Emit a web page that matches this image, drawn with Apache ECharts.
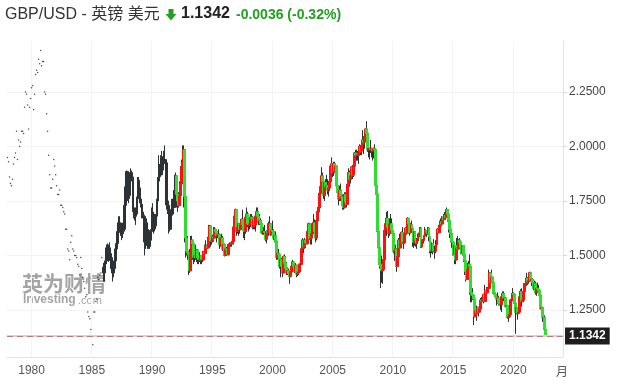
<!DOCTYPE html>
<html>
<head>
<meta charset="utf-8">
<script src="https://cdn.jsdelivr.net/npm/echarts@6/dist/echarts.min.js"></script>
<style>html,body{margin:0;padding:0;background:#fff}#c{width:620px;height:391px}</style>
</head>
<body>
<div id="c"></div>
<script>
// ---------------- DATA ----------------
const firstMonth = [1978, 1];
const lastAxisMonth = [2024, 2];
const yearTicks = [1980, 1985, 1990, 1995, 2000, 2005, 2010, 2015, 2020];
const priceTicks = [1.25, 1.5, 1.75, 2.0, 2.25];
const lastPrice = 1.1342;
const change = '-0.0036';
const changePct = '(-0.32%)';

// monthly closes shown as single dots, 1978-01 .. 1985-12
const dotCloses = [
  1.950,1.930,1.860,1.830,1.820,1.850,1.920,1.950,1.970,2.070,1.940,2.030,
  2.000,2.020,2.070,2.070,2.060,2.180,2.250,2.240,2.190,2.080,2.180,2.220,
  2.270,2.280,2.170,2.240,2.330,2.350,2.340,2.400,2.380,2.440,2.370,2.390,
  2.390,2.250,2.240,2.150,2.070,1.960,1.870,1.810,1.810,1.850,1.940,1.910,
  1.870,1.820,1.780,1.780,1.800,1.730,1.730,1.720,1.700,1.690,1.620,1.620,
  1.530,1.520,1.480,1.560,1.590,1.530,1.520,1.500,1.500,1.490,1.460,1.450,
  1.410,1.490,1.440,1.400,1.380,1.350,1.310,1.320,1.240,1.220,1.210,1.160,
  1.130,1.090,1.240,1.240,1.290,1.300,1.400,1.390,1.410,1.420,1.490,1.445
];

// monthly candles from 1986-01 (open = previous close)
const candleStart = '1986-01';
const colorStart = '1992-01';
const closes = [
  1.420,1.465,1.475,1.535,1.505,1.535,1.490,1.490,1.440,1.420,1.440,1.475,
  1.530,1.555,1.610,1.650,1.640,1.605,1.600,1.640,1.620,1.730,1.815,1.885,
  1.775,1.775,1.870,1.880,1.860,1.710,1.710,1.680,1.690,1.760,1.845,1.810,
  1.750,1.735,1.690,1.685,1.575,1.545,1.650,1.560,1.615,1.580,1.570,1.610,
  1.695,1.690,1.640,1.635,1.680,1.750,1.855,1.900,1.870,1.950,1.940,1.930,
  1.940,1.925,1.750,1.730,1.710,1.620,1.685,1.690,1.750,1.720,1.770,1.865,
  1.780,1.750,1.730,1.775,1.830,1.905,1.925,1.985,1.770,1.580,1.520,1.512,
  1.505,1.430,1.510,1.570,1.555,1.490,1.500,1.490,1.525,1.490,1.480,1.480,
  1.500,1.480,1.480,1.515,1.510,1.545,1.545,1.535,1.580,1.635,1.565,1.565,
  1.585,1.580,1.620,1.610,1.590,1.595,1.595,1.550,1.580,1.580,1.530,1.550,
  1.500,1.530,1.525,1.505,1.550,1.550,1.555,1.555,1.565,1.630,1.680,1.710,
  1.610,1.630,1.645,1.620,1.640,1.665,1.640,1.615,1.610,1.675,1.690,1.645,
  1.640,1.645,1.675,1.670,1.630,1.665,1.640,1.680,1.700,1.680,1.655,1.660,
  1.645,1.605,1.610,1.610,1.605,1.575,1.610,1.605,1.645,1.645,1.595,1.615,
  1.610,1.580,1.590,1.565,1.490,1.510,1.505,1.450,1.480,1.450,1.420,1.495,
  1.465,1.440,1.420,1.430,1.415,1.405,1.425,1.450,1.470,1.450,1.425,1.455,
  1.415,1.420,1.425,1.460,1.460,1.530,1.570,1.540,1.570,1.560,1.555,1.610,
  1.645,1.575,1.580,1.600,1.645,1.650,1.610,1.580,1.660,1.700,1.720,1.785,
  1.815,1.865,1.840,1.775,1.835,1.815,1.820,1.800,1.810,1.840,1.910,1.920,
  1.880,1.920,1.890,1.910,1.820,1.790,1.760,1.800,1.765,1.770,1.730,1.720,
  1.780,1.745,1.735,1.825,1.880,1.850,1.865,1.905,1.870,1.910,1.970,1.960,
  1.960,1.960,1.970,2.000,1.980,2.005,2.030,2.020,2.045,2.080,2.060,1.985,
  1.990,1.990,1.985,1.990,1.980,1.990,1.985,1.820,1.780,1.610,1.535,1.460,
  1.450,1.430,1.435,1.480,1.615,1.645,1.670,1.630,1.600,1.645,1.645,1.615,
  1.600,1.520,1.520,1.530,1.450,1.495,1.570,1.535,1.575,1.605,1.555,1.560,
  1.600,1.625,1.605,1.670,1.645,1.605,1.640,1.625,1.560,1.610,1.570,1.555,
  1.575,1.590,1.600,1.625,1.540,1.570,1.570,1.590,1.615,1.610,1.600,1.625,
  1.585,1.520,1.520,1.555,1.520,1.520,1.520,1.550,1.620,1.605,1.635,1.655,
  1.645,1.675,1.665,1.685,1.675,1.710,1.690,1.660,1.620,1.600,1.565,1.560,
  1.505,1.545,1.480,1.535,1.530,1.570,1.560,1.535,1.510,1.545,1.505,1.475,
  1.425,1.390,1.435,1.460,1.450,1.330,1.320,1.315,1.300,1.220,1.245,1.235,
  1.260,1.240,1.255,1.295,1.290,1.300,1.320,1.290,1.340,1.330,1.350,1.350,
  1.420,1.375,1.400,1.375,1.330,1.320,1.310,1.300,1.305,1.280,1.275,1.275,
  1.310,1.325,1.305,1.305,1.265,1.270,1.215,1.220,1.230,1.295,1.295,1.325,
  1.320,1.280,1.240,1.260,1.235,1.240,1.310,1.335,1.290,1.295,1.335,1.370,
  1.370,1.395,1.380,1.385,1.420,1.385,1.390,1.375,1.350,1.370,1.330,1.350,
  1.345,1.340,1.315,1.255,1.260,1.215,1.215,1.160,1.1342
];
const highs = [
  1.450,1.470,1.500,1.550,1.555,1.550,1.560,1.520,1.510,1.450,1.450,1.480,
  1.540,1.560,1.620,1.680,1.680,1.650,1.650,1.650,1.660,1.740,1.830,1.890,
  1.880,1.790,1.880,1.900,1.890,1.870,1.760,1.720,1.720,1.770,1.860,1.860,
  1.820,1.780,1.760,1.730,1.700,1.600,1.680,1.670,1.630,1.620,1.590,1.620,
  1.720,1.740,1.700,1.660,1.690,1.760,1.860,1.960,1.920,1.960,1.980,1.955,
  1.980,2.005,1.930,1.780,1.750,1.720,1.690,1.710,1.760,1.760,1.800,1.870,
  1.880,1.800,1.760,1.790,1.840,1.910,1.940,2.005,2.005,1.770,1.600,1.580,
  1.590,1.510,1.530,1.590,1.590,1.560,1.540,1.520,1.550,1.530,1.510,1.515,
  1.515,1.500,1.500,1.520,1.520,1.550,1.570,1.550,1.585,1.640,1.640,1.570,
  1.605,1.595,1.630,1.630,1.620,1.610,1.620,1.600,1.590,1.600,1.590,1.560,
  1.555,1.545,1.540,1.530,1.555,1.560,1.560,1.560,1.570,1.640,1.690,1.715,
  1.710,1.650,1.650,1.640,1.650,1.670,1.710,1.640,1.640,1.690,1.720,1.700,
  1.665,1.665,1.690,1.690,1.680,1.675,1.670,1.690,1.720,1.720,1.680,1.690,
  1.670,1.650,1.630,1.630,1.640,1.610,1.615,1.615,1.655,1.680,1.645,1.625,
  1.660,1.620,1.600,1.610,1.570,1.530,1.530,1.510,1.480,1.490,1.450,1.500,
  1.505,1.480,1.470,1.445,1.440,1.420,1.450,1.460,1.480,1.470,1.470,1.465,
  1.450,1.430,1.440,1.460,1.470,1.535,1.580,1.560,1.580,1.570,1.590,1.610,
  1.650,1.650,1.610,1.605,1.650,1.690,1.665,1.615,1.670,1.710,1.725,1.785,
  1.860,1.905,1.880,1.860,1.835,1.850,1.870,1.850,1.820,1.845,1.915,1.950,
  1.920,1.930,1.930,1.920,1.910,1.830,1.790,1.820,1.830,1.790,1.780,1.765,
  1.790,1.790,1.760,1.830,1.900,1.890,1.870,1.910,1.915,1.915,1.975,1.985,
  1.985,1.980,1.970,2.010,2.000,2.010,2.075,2.030,2.045,2.080,2.116,2.065,
  1.995,1.995,2.030,1.995,1.985,1.995,2.010,1.990,1.860,1.800,1.620,1.540,
  1.530,1.500,1.480,1.505,1.625,1.660,1.700,1.705,1.650,1.670,1.690,1.670,
  1.640,1.600,1.535,1.550,1.530,1.500,1.580,1.600,1.590,1.610,1.630,1.590,
  1.605,1.630,1.640,1.675,1.670,1.650,1.650,1.660,1.630,1.615,1.610,1.580,
  1.580,1.600,1.605,1.630,1.630,1.570,1.575,1.590,1.630,1.620,1.610,1.630,
  1.630,1.585,1.530,1.560,1.555,1.575,1.545,1.570,1.620,1.625,1.640,1.660,
  1.670,1.680,1.675,1.690,1.700,1.710,1.720,1.690,1.660,1.620,1.605,1.590,
  1.560,1.550,1.545,1.545,1.580,1.590,1.575,1.580,1.550,1.545,1.545,1.515,
  1.480,1.455,1.445,1.465,1.475,1.505,1.345,1.330,1.350,1.300,1.265,1.275,
  1.270,1.265,1.265,1.295,1.305,1.310,1.320,1.325,1.365,1.335,1.355,1.355,
  1.435,1.420,1.415,1.435,1.380,1.340,1.325,1.310,1.330,1.315,1.305,1.285,
  1.320,1.335,1.335,1.315,1.305,1.275,1.265,1.230,1.250,1.300,1.300,1.350,
  1.330,1.315,1.320,1.265,1.255,1.280,1.315,1.345,1.350,1.318,1.340,1.370,
  1.375,1.420,1.400,1.400,1.425,1.425,1.400,1.395,1.385,1.385,1.380,1.355,
  1.375,1.365,1.340,1.315,1.265,1.265,1.225,1.225,1.170
];
const lows = [
  1.380,1.380,1.440,1.460,1.490,1.470,1.475,1.460,1.420,1.380,1.400,1.420,
  1.470,1.510,1.540,1.600,1.620,1.590,1.570,1.580,1.600,1.610,1.710,1.790,
  1.750,1.740,1.760,1.860,1.840,1.700,1.670,1.660,1.640,1.680,1.750,1.800,
  1.740,1.720,1.670,1.670,1.560,1.500,1.530,1.550,1.530,1.530,1.530,1.540,
  1.610,1.660,1.600,1.610,1.620,1.670,1.740,1.850,1.840,1.860,1.910,1.890,
  1.890,1.920,1.730,1.710,1.690,1.600,1.610,1.650,1.680,1.690,1.720,1.770,
  1.760,1.720,1.700,1.720,1.770,1.820,1.880,1.910,1.720,1.560,1.490,1.500,
  1.480,1.410,1.420,1.500,1.520,1.480,1.460,1.470,1.480,1.470,1.460,1.460,
  1.470,1.460,1.460,1.470,1.485,1.500,1.520,1.520,1.530,1.570,1.560,1.540,
  1.550,1.560,1.570,1.590,1.560,1.580,1.580,1.530,1.540,1.560,1.520,1.520,
  1.495,1.500,1.510,1.500,1.500,1.530,1.540,1.540,1.550,1.550,1.610,1.640,
  1.590,1.600,1.590,1.600,1.615,1.630,1.620,1.580,1.570,1.600,1.680,1.630,
  1.610,1.620,1.630,1.650,1.620,1.620,1.620,1.610,1.670,1.650,1.640,1.640,
  1.630,1.600,1.595,1.595,1.590,1.565,1.555,1.580,1.590,1.635,1.590,1.595,
  1.600,1.570,1.560,1.560,1.480,1.480,1.490,1.440,1.400,1.420,1.400,1.420,
  1.435,1.435,1.410,1.410,1.405,1.370,1.400,1.410,1.440,1.430,1.420,1.420,
  1.400,1.405,1.410,1.420,1.440,1.460,1.520,1.510,1.530,1.535,1.550,1.550,
  1.600,1.570,1.550,1.550,1.590,1.640,1.600,1.560,1.570,1.655,1.670,1.710,
  1.780,1.810,1.775,1.760,1.750,1.800,1.810,1.780,1.770,1.795,1.830,1.900,
  1.860,1.865,1.885,1.860,1.820,1.780,1.730,1.750,1.750,1.735,1.710,1.710,
  1.715,1.730,1.720,1.735,1.820,1.815,1.830,1.855,1.850,1.860,1.900,1.940,
  1.935,1.935,1.920,1.975,1.960,1.960,2.000,1.965,1.990,2.025,2.040,1.975,
  1.950,1.940,1.970,1.950,1.935,1.945,1.970,1.820,1.735,1.550,1.460,1.440,
  1.350,1.375,1.370,1.440,1.475,1.590,1.590,1.620,1.580,1.590,1.630,1.600,
  1.595,1.510,1.475,1.510,1.425,1.455,1.490,1.535,1.540,1.565,1.555,1.530,
  1.555,1.600,1.595,1.600,1.600,1.590,1.600,1.610,1.540,1.535,1.545,1.540,
  1.530,1.560,1.565,1.585,1.535,1.535,1.540,1.555,1.590,1.590,1.585,1.595,
  1.565,1.510,1.490,1.510,1.505,1.515,1.485,1.510,1.545,1.590,1.600,1.625,
  1.635,1.640,1.645,1.655,1.665,1.675,1.690,1.655,1.605,1.580,1.560,1.535,
  1.500,1.500,1.460,1.460,1.520,1.520,1.545,1.530,1.505,1.510,1.500,1.470,
  1.410,1.380,1.390,1.410,1.430,1.320,1.285,1.285,1.295,1.180,1.215,1.220,
  1.200,1.230,1.220,1.240,1.280,1.265,1.290,1.280,1.290,1.305,1.310,1.325,
  1.350,1.375,1.370,1.375,1.325,1.310,1.305,1.270,1.295,1.270,1.270,1.250,
  1.240,1.285,1.290,1.290,1.265,1.255,1.210,1.195,1.220,1.230,1.280,1.290,
  1.290,1.270,1.140,1.230,1.205,1.230,1.240,1.305,1.265,1.285,1.285,1.335,
  1.350,1.360,1.365,1.370,1.380,1.380,1.360,1.360,1.340,1.350,1.320,1.315,
  1.335,1.330,1.300,1.255,1.235,1.195,1.175,1.160,1.134
];

// ---------------- BUILD ----------------
const months = [];
for (let y = firstMonth[0], m = firstMonth[1]; y < lastAxisMonth[0] || (y === lastAxisMonth[0] && m <= lastAxisMonth[1]); ) {
  months.push(y + '-' + (m < 10 ? '0' + m : '' + m));
  m++; if (m > 12) { m = 1; y++; }
}
const N = months.length;
const dotData = dotCloses.map((v, k) => [months[k], v]);
const wickData = new Array(N).fill('-');
const bodyData = new Array(N).fill('-');
const s0 = months.indexOf(candleStart), c0 = months.indexOf(colorStart);
let prev = dotCloses[dotCloses.length - 1];
for (let k = 0; k < closes.length; k++) {
  const o = prev, c = closes[k];
  wickData[s0 + k] = [o, c, lows[k], highs[k]];
  if (s0 + k >= c0) bodyData[s0 + k] = [o, c, Math.min(o, c), Math.max(o, c)];
  prev = c;
}
const isYearTick = (i, v) => v.slice(5) === '01' && yearTicks.indexOf(+v.slice(0, 4)) >= 0;

const UP = '#ff1010', DOWN = '#30dd30', WICK = '#2c3236', GREEN = '#22a022';
const WM = 'rgba(125,125,125,0.7)';
const chart = echarts.init(document.getElementById('c'), null, { renderer: 'canvas' });
chart.setOption({
  animation: false,
  backgroundColor: '#fff',
  grid: { left: 7, right: 57, top: 41, bottom: 34 },
  xAxis: {
    type: 'category', data: months, boundaryGap: true,
    axisLine: { lineStyle: { color: '#e1e3e6' } },
    axisTick: { show: false },
    axisLabel: { interval: isYearTick, formatter: v => v.slice(0, 4), color: '#555', fontSize: 12, margin: 8, fontFamily: 'Arial' },
    splitLine: { show: true, interval: isYearTick, lineStyle: { color: '#f2f3f5' } }
  },
  yAxis: {
    type: 'value', position: 'right', min: 1.034, max: 2.484, scale: true,
    axisLine: { show: true, lineStyle: { color: '#e1e3e6' } },
    axisTick: { show: true, length: 4, customValues: priceTicks, lineStyle: { color: '#d5d7da' } },
    axisLabel: { customValues: priceTicks, formatter: v => v.toFixed(4), color: '#444', fontSize: 12, margin: 6, fontFamily: 'Arial' },
    splitLine: { show: true, lineStyle: { color: '#f2f3f5' } }
  },
  graphic: [
    { type: 'text', left: 5, top: 7, style: { text: 'GBP/USD - 英镑 美元', font: '16px Arial, "Noto Sans CJK SC"', fill: '#333' } },
    { type: 'polygon', shape: { points: [[168.5, 9], [173.5, 9], [173.5, 14], [176.5, 14], [171, 20.5], [165.5, 14], [168.5, 14]] }, style: { fill: GREEN } },
    { type: 'text', left: 181, top: 6, style: { text: lastPrice.toFixed(4), font: 'bold 16px Arial', fill: '#222' } },
    { type: 'text', left: 236, top: 8, style: { text: change + ' ' + changePct, font: 'bold 14px Arial', fill: GREEN } },
    { type: 'text', left: 22, top: 273, z: 0, style: { text: '英为财情', font: 'bold 21px "Noto Sans CJK SC"', fill: WM } },
    { type: 'text', left: 23, top: 294, z: 0, style: { text: 'Investing', font: 'bold 12px Arial', fill: WM } },
    { type: 'text', left: 78, top: 295, z: 0, style: { text: '.com', font: '11px Arial', fill: WM } },
    { type: 'text', left: 556, top: 365, style: { text: '月', font: '12px "Noto Sans CJK SC"', fill: '#555' } }
  ],
  series: [
    { type: 'scatter', data: dotData, symbolSize: 1.5, itemStyle: { color: '#222' }, z: 3 },
    { type: 'candlestick', data: wickData, barWidth: 2.4, z: 3,
      itemStyle: { color: WICK, color0: WICK, borderColor: WICK, borderColor0: WICK, borderWidth: 1 } },
    { type: 'candlestick', data: bodyData, barWidth: 2.4, z: 4,
      itemStyle: { color: UP, color0: DOWN, borderColor: UP, borderColor0: DOWN, borderWidth: 1 },
      markLine: {
        silent: true, symbol: ['none', 'none'], animation: false,
        data: [
          { yAxis: lastPrice, lineStyle: { color: '#f8c4c4', width: 2, type: 'solid' }, label: { show: false } },
          { yAxis: lastPrice, lineStyle: { color: '#a88080', width: 1, type: [6, 4] },
            label: { show: true, position: 'end', formatter: lastPrice.toFixed(4), color: '#fff', backgroundColor: '#1e1e1e',
                     padding: [3, 4, 2, 4], fontSize: 12, fontWeight: 'bold', fontFamily: 'Arial', distance: 2 } }
        ]
      }
    }
  ]
});
</script>
</body>
</html>
